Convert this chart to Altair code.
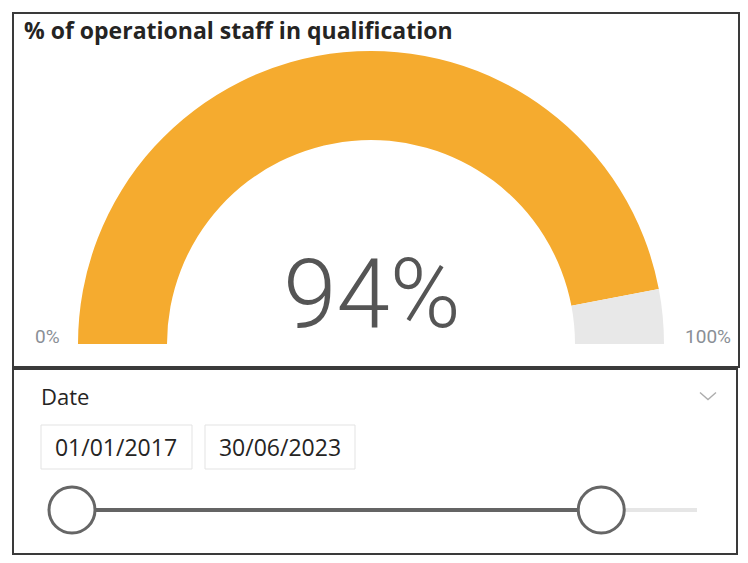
import math
import pandas as pd
import altair as alt

# ---- data ----
title_text = ["% of operational staff in qualification"]
gauge_parts = ["qualified", "remaining"]
gauge_values = [94, 6]
gauge_min_max = [0, 100]
slicer_label = ["Date"]
selected_dates = ["2017-01-01", "2023-06-30"]
date_range = ["2017-01-01", "2024-09-01"]  # estimated full extent of the slider track

ORANGE = "#F5AB2F"
GREY = "#E8E8E8"

W, H = 732, 547
one = pd.DataFrame({"k": [0]})

# panels
panels = alt.Chart(one).mark_rect(
    fill="white", stroke="#3a3a3a", strokeWidth=2
).encode(x=alt.value(5), x2=alt.value(731), y=alt.value(5), y2=alt.value(359))
panels2 = alt.Chart(one).mark_rect(
    fill="white", stroke="#3a3a3a", strokeWidth=2
).encode(x=alt.value(5), x2=alt.value(729), y=alt.value(361), y2=alt.value(546))

title = alt.Chart(pd.DataFrame({"t": title_text})).mark_text(
    align="left", baseline="alphabetic", font="Open Sans", fontWeight="bold",
    fontSize=23, color="#252423"
).encode(text="t:N", x=alt.value(16), y=alt.value(31))

# gauge
gdf = pd.DataFrame({"part": gauge_parts, "pct": gauge_values, "ord": [0, 1]})
gauge = alt.Chart(gdf).mark_arc(radius=293, radius2=204).encode(
    theta=alt.Theta("pct:Q", stack=True,
                    scale=alt.Scale(domain=gauge_min_max, range=[-math.pi / 2, math.pi / 2])),
    color=alt.Color("part:N", scale=alt.Scale(domain=gauge_parts, range=[ORANGE, GREY]), legend=None),
    order=alt.Order("ord:Q"),
    x=alt.value(363), y=alt.value(336),
)

value_txt = alt.Chart(pd.DataFrame({"t": [f"{gauge_values[0]}%"]})).mark_text(
    align="center", baseline="alphabetic", font="Roboto", fontWeight=300,
    fontSize=96, color="#555555"
).encode(text="t:N", x=alt.value(364), y=alt.value(319))

min_txt = alt.Chart(pd.DataFrame({"t": [f"{gauge_min_max[0]}%"]})).mark_text(
    align="left", baseline="alphabetic", font="Roboto", fontSize=19, color="#8a8f96"
).encode(text="t:N", x=alt.value(27), y=alt.value(335))
max_txt = alt.Chart(pd.DataFrame({"t": [f"{gauge_min_max[1]}%"]})).mark_text(
    align="right", baseline="alphabetic", font="Roboto", fontSize=19, color="#8a8f96"
).encode(text="t:N", x=alt.value(723), y=alt.value(335))

# slicer
date_lbl = alt.Chart(pd.DataFrame({"t": slicer_label})).mark_text(
    align="left", baseline="alphabetic", font="Open Sans", fontSize=22, color="#252423"
).encode(text="t:N", x=alt.value(33), y=alt.value(397))

chevron = alt.Chart(one).mark_point(
    shape="M-1,-0.45L0,0.45L1,-0.45", filled=False, stroke="#8a8a8a", strokeWidth=1.3, size=256
).encode(x=alt.value(700), y=alt.value(388))

fmt = [pd.to_datetime(d).strftime("%d/%m/%Y") for d in selected_dates]
box1 = alt.Chart(one).mark_rect(fill="white", stroke="#e3e3e3", strokeWidth=1).encode(
    x=alt.value(33), x2=alt.value(184), y=alt.value(417), y2=alt.value(461))
box2 = alt.Chart(one).mark_rect(fill="white", stroke="#e3e3e3", strokeWidth=1).encode(
    x=alt.value(197), x2=alt.value(347), y=alt.value(417), y2=alt.value(461))
txt1 = alt.Chart(pd.DataFrame({"t": [fmt[0]]})).mark_text(
    align="center", baseline="alphabetic", font="Open Sans", fontSize=23, color="#252423"
).encode(text="t:N", x=alt.value(108), y=alt.value(448))
txt2 = alt.Chart(pd.DataFrame({"t": [fmt[1]]})).mark_text(
    align="center", baseline="alphabetic", font="Open Sans", fontSize=23, color="#252423"
).encode(text="t:N", x=alt.value(272), y=alt.value(448))

xscale = alt.Scale(range=[64, 689], nice=False)
track_df = pd.DataFrame({"s": [date_range[0]], "e": [date_range[1]]})
sel_df = pd.DataFrame({"s": [selected_dates[0]], "e": [selected_dates[1]]})
handles_df = pd.DataFrame({"d": selected_dates})

track = alt.Chart(track_df).mark_rule(color="#e6e6e6", strokeWidth=4).encode(
    x=alt.X("s:T", scale=xscale, axis=None), x2="e:T", y=alt.value(502))
sel = alt.Chart(sel_df).mark_rule(color="#646464", strokeWidth=4).encode(
    x=alt.X("s:T", axis=None), x2="e:T", y=alt.value(502))
handles = alt.Chart(handles_df).mark_point(
    shape="circle", filled=True, fill="white", stroke="#666666", strokeWidth=3,
    size=2116, opacity=1
).encode(x=alt.X("d:T", axis=None), y=alt.value(502))

chart = alt.layer(
    panels, panels2, title, gauge, value_txt, min_txt, max_txt,
    date_lbl, chevron, box1, box2, txt1, txt2, track, sel, handles
).properties(
    width=W, height=H, padding=0, autosize=alt.AutoSizeParams(type="none")
).configure_view(stroke=None)

chart.save("out.html", embed_options={"renderer": "svg", "actions": False})
